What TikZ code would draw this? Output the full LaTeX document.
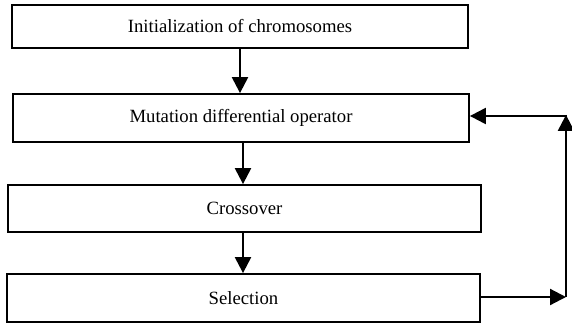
\documentclass[tikz,border=0pt]{standalone}
\usepackage{fontspec}
\setmainfont{Liberation Serif}
\usetikzlibrary{arrows.meta}
\begin{document}
\begin{tikzpicture}[x=1pt,y=-1pt,
  stepbox/.style={draw, line width=1.8pt, inner sep=0pt, font=\fontsize{18.7}{22}\selectfont},
  flow/.style={line width=2.2pt, -{Triangle[length=16pt,width=16pt]}}]
  \useasboundingbox[fill=white] (0,0) rectangle (572,324);
  % process boxes
  \node[stepbox, minimum width=456pt, minimum height=43pt] (init) at (240,26.5) {Initialization of chromosomes};
  \node[stepbox, minimum width=456pt, minimum height=48pt] (mut) at (241,118) {Mutation differential operator};
  \node[stepbox, minimum width=473pt, minimum height=47pt] (cross) at (244.5,208.5) {Crossover};
  \node[stepbox, minimum width=473pt, minimum height=48pt] (sel) at (243.5,298) {Selection};
  % corners of the feedback loop
  \coordinate (lr) at (566,297);
  \coordinate (ur) at (566,116);
  % main flow
  \draw[flow] (init.south -| 240,0) -- (mut.north -| 240,0);
  \draw[flow] (mut.south -| 243,0) -- (cross.north -| 243,0);
  \draw[flow] (cross.south -| 243,0) -- (sel.north -| 243,0);
  % feedback from selection back to mutation
  \draw[flow] (sel.east |- lr) -- (lr);
  \draw[flow, shorten >=-1.1pt] (lr) -- (ur);
  \draw[flow] ([xshift=1.1pt]ur) -- (mut.east |- ur);
\end{tikzpicture}
\end{document}
